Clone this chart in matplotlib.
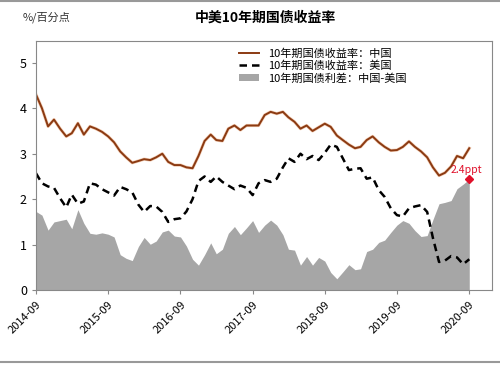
import matplotlib.pyplot as plt
import matplotlib.dates as mdates
from matplotlib.lines import Line2D
import numpy as np
import pandas as pd

plt.rcParams['font.family'] = ['Noto Sans CJK SC', 'DejaVu Sans']

# monthly samples, 2014-09 .. 2020-09
dates = pd.date_range('2014-09-01', '2020-09-01', freq='MS')
china = [4.30, 4.00, 3.60, 3.75, 3.55, 3.38, 3.45, 3.67, 3.42, 3.60, 3.55, 3.48,
         3.38, 3.25, 3.05, 2.92, 2.80, 2.84, 2.88, 2.86, 2.92, 3.00, 2.82, 2.75,
         2.75, 2.70, 2.68, 2.95, 3.28, 3.42, 3.30, 3.28, 3.55, 3.62, 3.52, 3.62,
         3.62, 3.62, 3.85, 3.92, 3.88, 3.92, 3.80, 3.70, 3.55, 3.62, 3.50, 3.58,
         3.66, 3.59, 3.40, 3.30, 3.20, 3.12, 3.15, 3.30, 3.38, 3.25, 3.15, 3.07,
         3.08, 3.15, 3.27, 3.15, 3.05, 2.92, 2.70, 2.52, 2.58, 2.72, 2.95, 2.90,
         3.12]
us = [2.57, 2.35, 2.28, 2.25, 2.02, 1.82, 2.10, 1.90, 1.95, 2.35, 2.32, 2.22,
      2.15, 2.08, 2.27, 2.22, 2.15, 1.88, 1.72, 1.85, 1.84, 1.72, 1.50, 1.56,
      1.58, 1.73, 2.00, 2.40, 2.50, 2.38, 2.50, 2.38, 2.30, 2.22, 2.30, 2.25,
      2.09, 2.35, 2.42, 2.38, 2.45, 2.70, 2.90, 2.82, 3.00, 2.88, 2.95, 2.86,
      3.02, 3.20, 3.15, 2.90, 2.64, 2.67, 2.68, 2.45, 2.48, 2.20, 2.05, 1.80,
      1.65, 1.62, 1.80, 1.84, 1.87, 1.72, 1.15, 0.62, 0.65, 0.75, 0.72, 0.57,
      0.68]
spread = np.array(china) - np.array(us)
tick_years = range(2014, 2021)

fig = plt.figure(figsize=(5, 3.65), dpi=100)
ax = fig.add_axes([0.072, 0.205, 0.912, 0.683])

ax.fill_between(dates, 0, spread, color='#A6A6A6', lw=0, label='10年期国债利差：中国-美国')
ax.plot(dates, china, color='#E8A070', lw=2.3, alpha=0.5)
ax.plot(dates, china, color='#8B3A12', lw=1.4, label='10年期国债收益率：中国')
ax.plot(dates, us, color='black', lw=1.8, dashes=(3, 2), label='10年期国债收益率：美国')

ax.plot(dates[-1], spread[-1], marker='D', color='#E0102A', ms=4)
ax.text(dates[-1] - pd.Timedelta(days=15), spread[-1] + 0.1, '%.1fppt' % spread[-1],
        color='#E0102A', fontsize=7.5, ha='center', va='bottom')

ax.set_ylim(0, 5.48)
ax.set_yticks(range(0, 6))
ax.set_xlim(pd.Timestamp('2014-09-01'), pd.Timestamp('2020-12-25'))
ax.set_xticks([pd.Timestamp(f'{y}-09-01') for y in tick_years])
ax.xaxis.set_major_formatter(mdates.DateFormatter('%Y-%m'))
plt.setp(ax.get_xticklabels(), rotation=45, ha='right', rotation_mode='anchor')
ax.tick_params(axis='x', labelsize=8, length=3, color='#888888')
ax.tick_params(axis='y', labelsize=9, length=3, color='#888888')
for s in ax.spines.values():
    s.set_color('#888888')

h, l = ax.get_legend_handles_labels()
ax.legend([h[1], h[2], h[0]], [l[1], l[2], l[0]], loc='upper right',
          bbox_to_anchor=(0.83, 1.0), frameon=False, fontsize=8,
          handlelength=1.8, labelspacing=0.15, borderaxespad=0.3)

fig.text(0.53, 0.952, '中美10年期国债收益率', ha='center', va='center',
         fontsize=10, fontweight='bold')
fig.text(0.045, 0.952, '%/百分点', ha='left', va='center', fontsize=8, color='#333333')

fig.add_artist(Line2D([0, 1], [0.998, 0.998], color='#999999', lw=1.5))
fig.add_artist(Line2D([0, 1], [0.007, 0.007], color='#999999', lw=1.5))

fig.savefig('out.png', dpi=100)
